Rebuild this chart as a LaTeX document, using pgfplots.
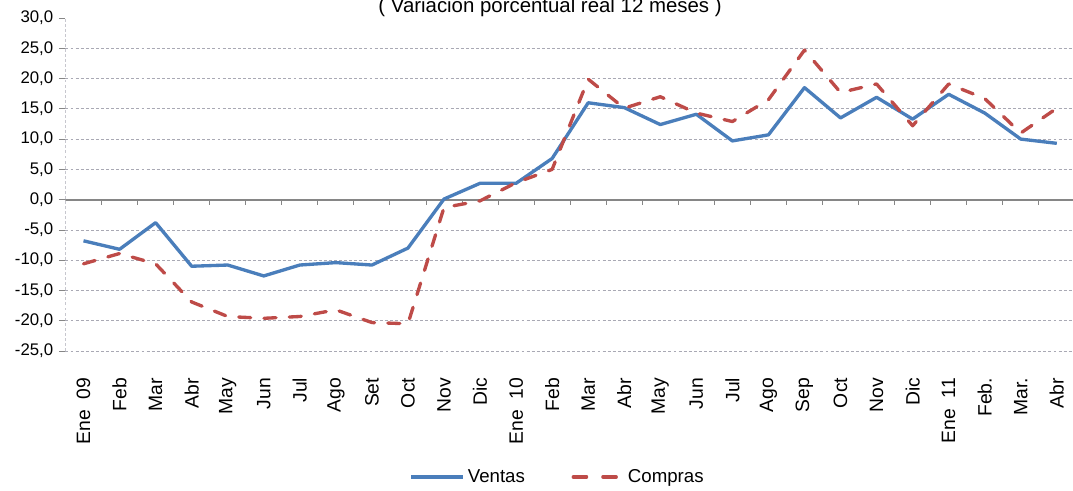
\documentclass[border=0pt]{standalone}
\usepackage{fontspec}
\setmainfont{Liberation Sans}
\usepackage{pgfplots}
\pgfplotsset{compat=1.18}
\definecolor{cblue}{HTML}{4A7EBB}
\definecolor{cred}{HTML}{BE4B48}
\definecolor{cgrid}{HTML}{A9A9B4}
\definecolor{czero}{HTML}{868686}
\pgfplotsset{redlegend/.style={legend image code/.code={\draw[##1, dash pattern=on 10pt off 12.25pt] (1.25pt,0pt) -- (33.5pt,0pt); \path (39pt,0pt);}}}
\begin{document}
\begin{tikzpicture}
\begin{axis}[name=ax, scale only axis, width=757pt, height=249.75pt,
  xmin=-0.5, xmax=27.5, ymin=-25, ymax=30,
  axis line style={draw=none},
  ytick={-25,-20,...,30}, ytick pos=left, tick align=outside,
  major tick length=5pt,
  ytick style={color=czero, line width=0.6pt},
  xtick={0,...,27}, xtick style={draw=none},
  xticklabels={Ene\ \ 09,Feb,Mar,Abr,May,Jun,Jul,Ago,Set,Oct,Nov,Dic,Ene\ \ 10,Feb,Mar,Abr,May,Jun,Jul,Ago,Sep,Oct,Nov,Dic,Ene\ \ 11,Feb.,Mar.,Abr},
  xticklabel style={rotate=90, anchor=east, inner sep=0pt, font=\fontsize{14.5}{17}\selectfont},
  xticklabel shift=15pt,
  yticklabel style={anchor=east, inner sep=0pt, xshift=-4pt, font=\fontsize{12.6}{15}\selectfont},
  /pgf/number format/fixed, /pgf/number format/fixed zerofill, /pgf/number format/precision=1,
  /pgf/number format/use comma, /pgf/number format/assume math mode=true,
  extra y ticks={-25,-20,...,25}, extra y tick labels={},
  extra y tick style={ymajorgrids=true, major tick length=0pt},
  major grid style={cgrid, line width=0.6pt, dash pattern=on 2.2pt off 1.6pt},
  legend columns=2,
  legend style={draw=none, at={(0.488,-0.378)}, anchor=center, font=\fontsize{14}{16}\selectfont,
    /tikz/every even column/.append style={column sep=33pt}},
  legend image code/.code={\draw[#1] (0pt,0pt) -- (39pt,0pt);},
]
\draw[cgrid, line width=0.6pt, dash pattern=on 2.2pt off 1.6pt] (axis cs:-0.5,-25) -- (axis cs:-0.5,30);
\draw[czero, line width=1.5pt] (axis cs:-0.5,0) -- (axis cs:27.5,0);
\pgfplotsinvokeforeach{0.5,1.5,...,27.5}{\draw[czero, line width=0.7pt] (axis cs:#1,0) -- ++(0pt,-4pt);}
\addplot[cblue, line width=2.5pt, line join=round] coordinates {
(0,-6.8) (1,-8.2) (2,-3.8) (3,-11.0) (4,-10.8) (5,-12.6) (6,-10.8) (7,-10.4) (8,-10.8) (9,-8.0)
(10,0.1) (11,2.7) (12,2.7) (13,6.8) (14,16.0) (15,15.2) (16,12.4) (17,14.1) (18,9.7) (19,10.7)
(20,18.5) (21,13.5) (22,16.9) (23,13.3) (24,17.4) (25,14.3) (26,10.0) (27,9.3)};
\addplot[cred, line width=2.5pt, dash pattern=on 9pt off 10pt, line cap=round, line join=round, redlegend] coordinates {
(0,-10.6) (1,-8.9) (2,-10.6) (3,-16.9) (4,-19.3) (5,-19.6) (6,-19.3) (7,-18.2) (8,-20.3) (9,-20.5)
(10,-1.3) (11,-0.2) (12,2.8) (13,5.0) (14,19.9) (15,15.1) (16,17.0) (17,14.3) (18,12.9) (19,16.5)
(20,24.7) (21,17.7) (22,19.1) (23,12.2) (24,19.1) (25,16.7) (26,11.0) (27,15.1)};
\legend{Ventas, Compras}
\end{axis}
\node[anchor=base, font=\fontsize{15.3}{18}\selectfont] at ([xshift=363.4pt, yshift=4.2pt]ax.north west) {( Variación porcentual real 12 meses )};
\pgfresetboundingbox
\path[use as bounding box] (ax.south west) ++(-49.125pt,-104.25pt) rectangle ++(804.75pt,367.5pt);
\end{tikzpicture}
\end{document}
